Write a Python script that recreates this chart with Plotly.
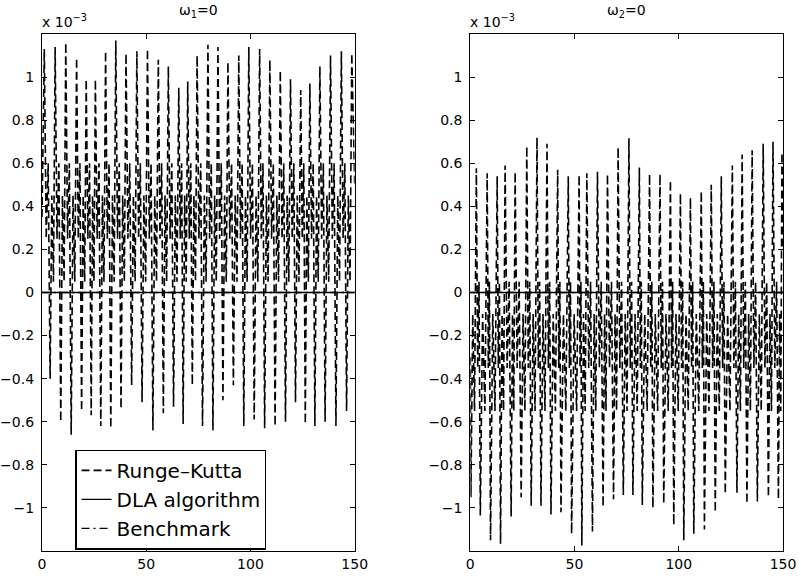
import plotly.graph_objects as go
from plotly.subplots import make_subplots

# ---- data (values in units of 1e-3) ----
left_peak_t = [1.1, 6.3, 11.4, 16.6, 21.2, 25.6, 30.5, 35.4, 40.3, 45.5, 50.6, 55.8, 60.6,
               65.6, 69.9, 74.4, 79.6, 84.4, 89.2, 94.4, 99.2, 104.4, 109.3, 114.3, 119.2,
               124.1, 128.5, 133.3, 138.4, 143.6, 148.6]
left_peak_v = [1.13, 1.14, 1.16, 1.09, 0.99, 0.99, 1.12, 1.17, 1.11, 1.12, 1.13, 1.08, 1.05,
               0.95, 0.98, 1.10, 1.15, 1.14, 1.07, 1.10, 1.14, 1.13, 1.08, 1.03, 0.99,
               0.94, 0.97, 1.05, 1.10, 1.12, 1.11]
left_trough_t = [3.9, 9.0, 14.0, 19.0, 23.6, 28.2, 33.0, 37.9, 43.0, 48.0, 53.2, 58.2, 63.1,
                 67.7, 72.1, 77.0, 82.0, 86.8, 91.8, 96.8, 101.8, 106.8, 111.8, 116.8,
                 121.6, 126.3, 130.9, 135.8, 141.0, 146.1]
left_trough_v = [-0.40, -0.60, -0.66, -0.55, -0.57, -0.62, -0.63, -0.54, -0.43, -0.51, -0.64,
                 -0.56, -0.53, -0.61, -0.43, -0.62, -0.64, -0.50, -0.43, -0.62, -0.59, -0.63,
                 -0.62, -0.60, -0.51, -0.61, -0.62, -0.60, -0.62, -0.55]
left_after_peak = [0.25, 0.60]      # inner wiggle levels between a peak and the next trough
left_after_trough = [0.45, 0.05]    # inner wiggle levels between a trough and the next peak
left_ends = [(0.0, 0.35), (150.0, 0.50)]

right_peak_t = [2.9, 8.1, 12.9, 16.7, 21.5, 27.1, 32.0, 36.8, 41.9, 47.0, 52.2, 55.9, 61.0,
                65.8, 70.9, 76.1, 81.1, 86.0, 91.0, 96.0, 100.8, 105.6, 110.8, 115.6, 120.4,
                125.7, 130.4, 135.2, 140.5, 145.2, 149.5]
right_peak_v = [0.577, 0.554, 0.54, 0.59, 0.56, 0.68, 0.72, 0.69, 0.57, 0.54, 0.546, 0.554,
                0.56, 0.55, 0.675, 0.716, 0.58, 0.55, 0.55, 0.52, 0.46, 0.44, 0.47, 0.50,
                0.54, 0.59, 0.64, 0.66, 0.69, 0.70, 0.65]
right_trough_t = [0.3, 4.8, 9.7, 14.5, 19.6, 24.4, 29.2, 33.9, 38.7, 43.5, 48.6, 53.5, 58.6,
                  63.7, 68.7, 73.4, 78.0, 82.5, 87.6, 92.8, 97.6, 102.4, 107.2, 112.3, 117.5,
                  122.3, 127.9, 132.7, 137.7, 143.0, 147.8]
right_trough_v = [-0.95, -1.035, -1.15, -1.167, -1.04, -0.95, -0.99, -0.99, -1.03, -1.02,
                  -1.12, -1.175, -1.11, -0.995, -0.96, -0.94, -0.94, -0.986, -1.0, -0.98,
                  -1.08, -1.15, -1.12, -1.10, -1.02, -0.935, -0.93, -0.98, -0.97, -0.95, -0.96]
right_after_peak = [-0.35, 0.05]
right_after_trough = [-0.10, -0.55]
right_ends = [(0.0, -0.30), (150.0, 0.20)]

x_ticks = [0, 50, 100, 150]
y_ticks = [-1, -0.8, -0.6, -0.4, -0.2, 0, 0.2, 0.4, 0.6, 0.8, 1]
y_tick_text = ["\u22121", "\u22120.8", "\u22120.6", "\u22120.4", "\u22120.2", "0",
               "0.2", "0.4", "0.6", "0.8", "1"]
titles = ["\u03c9<sub>1</sub>=0", "\u03c9<sub>2</sub>=0"]
names = ["Runge\u2013Kutta", "DLA algorithm", "Benchmark"]


def build(peak_t, peak_v, trough_t, trough_v, after_peak, after_trough, ends):
    pts = [(t, v, "P") for t, v in zip(peak_t, peak_v)] + \
          [(t, v, "T") for t, v in zip(trough_t, trough_v)]
    pts.sort()
    xs, ys = [ends[0][0]], [ends[0][1]]
    for i, (t, v, kind) in enumerate(pts):
        xs.append(t)
        ys.append(v)
        if i + 1 < len(pts):
            t2 = pts[i + 1][0]
            levels = after_peak if kind == "P" else after_trough
            n = len(levels) + 1
            for j, lv in enumerate(levels):
                xs.append(t + (t2 - t) * (j + 1) / n)
                ys.append(lv)
    xs.append(ends[1][0])
    ys.append(ends[1][1])
    return xs, ys


lx, ly = build(left_peak_t, left_peak_v, left_trough_t, left_trough_v,
               left_after_peak, left_after_trough, left_ends)
rx, ry = build(right_peak_t, right_peak_v, right_trough_t, right_trough_v,
               right_after_peak, right_after_trough, right_ends)

fig = make_subplots(rows=1, cols=2, horizontal_spacing=0.156)

font_family = "DejaVu Sans, Liberation Sans, Arial, sans-serif"

for col, (xs, ys) in enumerate([(lx, ly), (rx, ry)], start=1):
    show = col == 1
    fig.add_trace(go.Scatter(x=xs, y=ys, mode="lines", name=names[0], showlegend=show,
                             line=dict(color="black", width=1.6, dash="8px,4px")),
                  row=1, col=col)
    fig.add_trace(go.Scatter(x=[0, 150], y=[0, 0], mode="lines", name=names[1],
                             showlegend=show, line=dict(color="black", width=1.3)),
                  row=1, col=col)
    fig.add_trace(go.Scatter(x=[0, 150], y=[0, 0], mode="lines", name=names[2],
                             showlegend=show,
                             line=dict(color="black", width=1.3, dash="8px,4px,2px,4px")),
                  row=1, col=col)

axis_common = dict(showline=True, linecolor="black", linewidth=1.2, mirror="ticks",
                   ticks="inside", ticklen=5, tickcolor="black", tickwidth=1.2,
                   showgrid=False, zeroline=False, automargin=False,
                   tickfont=dict(size=14, color="black", family=font_family))
for col in (1, 2):
    fig.update_xaxes(range=[0, 150], tickvals=x_ticks, row=1, col=col, **axis_common)
    fig.update_yaxes(range=[-1.2, 1.2], tickvals=y_ticks, ticktext=y_tick_text,
                     ticklabelstandoff=4, row=1, col=col, **axis_common)

fig.update_layout(
    width=801, height=576,
    margin=dict(l=42, r=18, t=34, b=25, autoexpand=False),
    paper_bgcolor="white", plot_bgcolor="white",
    font=dict(family=font_family, color="black"),
    legend=dict(x=0.045, y=0.196, xanchor="left", yanchor="top",
                bgcolor="white", bordercolor="black", borderwidth=1.2,
                font=dict(size=20, color="black", family=font_family),
                tracegroupgap=0, itemwidth=30),
)

doms = [fig.layout.xaxis.domain, fig.layout.xaxis2.domain]
for d, title in zip(doms, titles):
    fig.add_annotation(x=(d[0] + d[1]) / 2, y=1, xref="paper", yref="paper",
                       xanchor="center", yanchor="bottom", yshift=12, showarrow=False,
                       text=title, font=dict(size=14, color="black", family=font_family))
    fig.add_annotation(x=d[0], y=1, xref="paper", yref="paper", xanchor="left",
                       yanchor="bottom", xshift=-2, yshift=2, showarrow=False,
                       text="x 10<sup>\u22123</sup>",
                       font=dict(size=14, color="black", family=font_family))

fig.write_html("out.html",
               config={"displayModeBar": False},
               post_script="document.body.style.margin='0px';"
                           "document.body.style.padding='0px';"
                           "document.body.style.overflow='hidden';")
